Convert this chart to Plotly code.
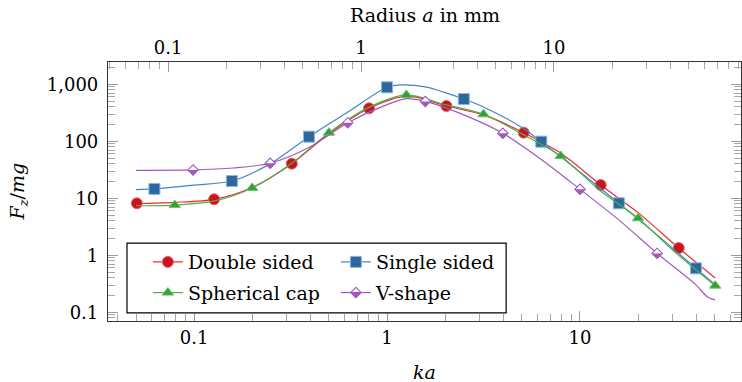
import math
import plotly.graph_objects as go

# ---------------- data ----------------
K_PER_MM = 0.733  # ka per mm of radius

X_TICKS = [0.1, 1, 10]
X_TICK_TEXT = ["0.1", "1", "10"]
TOP_TICKS = [0.1, 1, 10]
TOP_TICK_TEXT = ["0.1", "1", "10"]
Y_TICKS = [0.1, 1, 10, 100, 1000]
Y_TICK_TEXT = ["0.1", "1", "10", "100", "1,000"]

# Double sided
DS_MARK_KA = [0.0505, 0.127, 0.321, 0.807, 2.03, 5.11, 12.8, 32.5]
DS_MARK_F = [8.17, 9.6, 40.5, 380, 416, 141.6, 17.1, 1.34]
DS_LINE_KA = [0.05, 0.08, 0.127, 0.2, 0.321, 0.5, 0.807, 1.28, 2.03, 3.16, 5.11, 7.94, 12.8, 20, 32.5, 50.2]
DS_LINE_F = [8.1, 8.5, 9.6, 15.5, 40.5, 135, 380, 620, 416, 290, 141.6, 62, 17.1, 5.6, 1.34, 0.40]

# Single sided
SS_MARK_KA = [0.0623, 0.157, 0.394, 1.0, 2.50, 6.30, 15.9, 39.9]
SS_MARK_F = [14.6, 20.1, 120.5, 885, 552, 98.4, 8.17, 0.59]
SS_LINE_KA = [0.05, 0.0623, 0.1, 0.157, 0.25, 0.394, 0.63, 1.0, 1.2, 1.6, 2.0, 2.5, 3.16, 5.0, 6.3, 10, 15.9, 25, 39.9, 50.2]
SS_LINE_F = [14.2, 14.6, 17.0, 20.1, 41, 120.5, 330, 885, 975, 890, 715, 552, 400, 175, 98.4, 29, 8.17, 2.3, 0.59, 0.305]

# Spherical cap
SC_MARK_KA = [0.0794, 0.2, 0.5, 1.26, 3.16, 7.94, 20.0, 50.2]
SC_MARK_F = [7.6, 15.2, 141.6, 650, 298, 55.2, 4.46, 0.293]
SC_LINE_KA = [0.05, 0.0794, 0.126, 0.2, 0.317, 0.5, 0.8, 1.26, 2.0, 3.16, 5.0, 7.94, 12.6, 20.0, 31.6, 50.2]
SC_LINE_F = [7.4, 7.6, 8.9, 15.2, 40, 141.6, 390, 650, 440, 298, 135, 55.2, 14, 4.46, 1.08, 0.293]

# V-shape
VS_MARK_KA = [0.0988, 0.248, 0.626, 1.58, 3.98, 10.0, 25.1]
VS_MARK_F = [31.4, 41.1, 212, 500, 138, 14.4, 1.08]
VS_LINE_KA = [0.05, 0.0988, 0.16, 0.248, 0.4, 0.626, 1.0, 1.26, 1.58, 2.5, 3.98, 6.3, 10, 16, 25.1, 40, 45.4, 50.2]
VS_LINE_F = [31, 31.4, 34, 41.1, 80, 212, 440, 560, 500, 290, 138, 48, 14.4, 4.1, 1.08, 0.30, 0.19, 0.164]

# ---------------- styles ----------------
RED_L, RED_M, RED_E = "#ee2a2a", "#c8141c", "#e86060"
BLU_L, BLU_M, BLU_E = "#3f86c8", "#2e679d", "#86b6e2"
GRN_L, GRN_M, GRN_E = "#4cae4c", "#36a036", "#6cc06c"
PUR_L = "#a159bf"
FONT = "DejaVu Serif, Liberation Serif, serif"
FS = 19
FS_TICK = 18
HALF_DIAMOND = "M-5.4,0 L5.4,0 L0,-5.4 Z"

fig = go.Figure()

series = [
    ("Double sided", DS_LINE_KA, DS_LINE_F, DS_MARK_KA, DS_MARK_F, RED_L,
     dict(symbol="circle", size=11, color=RED_M, line=dict(color=RED_E, width=1)), "legend"),
    ("Single sided", SS_LINE_KA, SS_LINE_F, SS_MARK_KA, SS_MARK_F, BLU_L,
     dict(symbol="square", size=11, color=BLU_M, line=dict(color=BLU_E, width=1)), "legend2"),
    ("Spherical cap", SC_LINE_KA, SC_LINE_F, SC_MARK_KA, SC_MARK_F, GRN_L,
     dict(symbol="triangle-up", size=10, color=GRN_M, line=dict(color=GRN_E, width=1)), "legend"),
    ("V-shape", VS_LINE_KA, VS_LINE_F, VS_MARK_KA, VS_MARK_F, PUR_L,
     dict(symbol="diamond", size=8, color="white", line=dict(color=PUR_L, width=1.1)), "legend2"),
]

for name, lx, ly, mx, my, lc, mk, lg in series:
    fig.add_trace(go.Scatter(x=lx, y=ly, mode="lines", line=dict(color=lc, width=1.2, shape="spline", smoothing=0.8),
                             showlegend=False, hoverinfo="skip"))
    fig.add_trace(go.Scatter(x=mx, y=my, mode="markers", marker=mk, showlegend=False, name=name))
    lmk = dict(mk)
    if name == "V-shape":
        lmk = dict(mk, color="rgba(255,255,255,0)")
    fig.add_trace(go.Scatter(x=[None], y=[None], mode="lines+markers", name=name, legend=lg,
                             legendgroup=name, line=dict(color=lc, width=1.2), marker=lmk))

# dummy trace for the top (radius) axis
fig.add_trace(go.Scatter(x=list(TOP_TICKS), y=[None] * len(TOP_TICKS), xaxis="x2", yaxis="y",
                         mode="markers", showlegend=False, hoverinfo="skip"))

# half filling of the V-shape diamonds (lower half purple)
shapes = []
for xv, yv in zip(VS_MARK_KA, VS_MARK_F):
    shapes.append(dict(type="path", xref="x", yref="y", xsizemode="pixel", ysizemode="pixel",
                       xanchor=xv, yanchor=yv, path=HALF_DIAMOND,
                       fillcolor=PUR_L, line=dict(width=0), layer="above"))

# legend frame
shapes.append(dict(type="rect", xref="paper", yref="paper", x0=0.030, x1=0.629, y0=0.031, y1=0.301,
                   line=dict(color="black", width=1.2), fillcolor="white", layer="above"))
# half filling of the legend diamond
shapes.append(dict(type="path", xref="paper", yref="paper", xsizemode="pixel", ysizemode="pixel",
                   xanchor=0.3916, yanchor=0.1097, path=HALF_DIAMOND,
                   fillcolor=PUR_L, line=dict(width=0), layer="above"))

xmin, xmax = 0.0358, 68.3
xr = [math.log10(xmin), math.log10(xmax)]
xr2 = [math.log10(xmin / K_PER_MM), math.log10(xmax / K_PER_MM)]
yr = [-1.153, 3.391]

minor_vals = [m * 10.0 ** e for e in range(-3, 4) for m in range(2, 10)]

axis_common = dict(type="log", showgrid=False, zeroline=False, showline=True, linecolor="#333333",
                   linewidth=1.2, ticks="inside", ticklen=10, tickwidth=1, tickcolor="#9a9a9a",
                   automargin=False,
                   tickfont=dict(family=FONT, size=FS_TICK, color="black"),
                   minor=dict(tickvals=minor_vals, ticks="inside", ticklen=7, tickcolor="#a8a8a8", tickwidth=1))

fig.update_layout(
    width=742, height=382,
    margin=dict(l=108, r=1, t=62, b=61, autoexpand=False),
    paper_bgcolor="white", plot_bgcolor="white",
    xaxis=dict(range=xr, tickvals=X_TICKS, ticktext=X_TICK_TEXT, **axis_common),
    xaxis2=dict(range=xr2, overlaying="x", side="top", anchor="y", tickvals=TOP_TICKS,
                ticktext=TOP_TICK_TEXT, **axis_common),
    yaxis=dict(range=yr, tickvals=Y_TICKS, ticktext=Y_TICK_TEXT, mirror="ticks", ticklabelstandoff=5,
               **axis_common),
    legend=dict(x=0.063, y=0.301, xanchor="left", yanchor="top", bgcolor="rgba(0,0,0,0)",
                font=dict(family=FONT, size=FS, color="black"), tracegroupgap=3),
    legend2=dict(x=0.360, y=0.301, xanchor="left", yanchor="top", bgcolor="rgba(0,0,0,0)",
                 font=dict(family=FONT, size=FS, color="black"), tracegroupgap=3),
    shapes=shapes,
    annotations=[
        dict(text="Radius <i>a</i> in mm", xref="paper", yref="paper", x=0.5, y=1.1815,
             showarrow=False, font=dict(family=FONT, size=FS, color="black"), yanchor="middle"),
        dict(text="<i>ka</i>", xref="paper", yref="paper", x=0.5, y=-0.197,
             showarrow=False, font=dict(family=FONT, size=FS, color="black"), yanchor="middle"),
        dict(text="<i>F<sub>z</sub></i>/<i>mg</i>", xref="paper", yref="paper", x=-0.142, y=0.5,
             textangle=-90, showarrow=False, font=dict(family=FONT, size=FS, color="black"),
             xanchor="center", yanchor="middle"),
    ],
)

fig.write_html("out.html", config={"displayModeBar": False},
               post_script="document.body.style.margin='0px';")
